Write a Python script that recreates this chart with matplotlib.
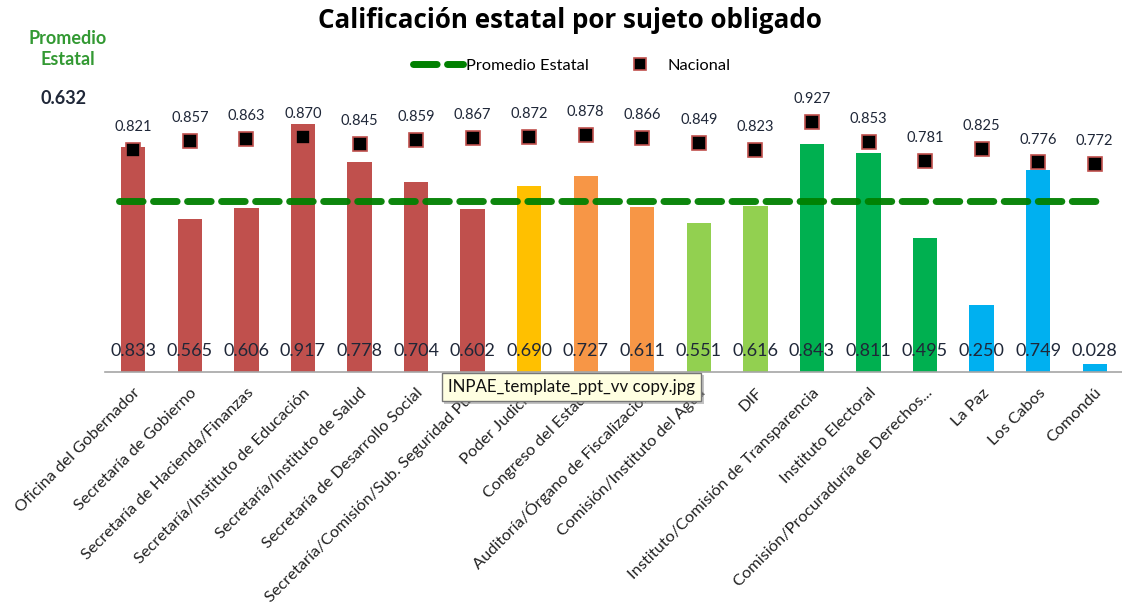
import matplotlib
matplotlib.use("Agg")
import matplotlib.pyplot as plt
from matplotlib.lines import Line2D
import matplotlib.patheffects as pe
import numpy as np

plt.rcParams['font.family'] = ['Open Sans', 'DejaVu Sans']

categories = [
    "Oficina del Gobernador",
    "Secretaría de Gobierno",
    "Secretaría de Hacienda/Finanzas",
    "Secretaría/Instituto de Educación",
    "Secretaría/Instituto de Salud",
    "Secretaría de Desarrollo Social",
    "Secretaría/Comisión/Sub. Seguridad Pú...",
    "Poder Judicial",
    "Congreso del Estado",
    "Auditoría/Órgano de Fiscalización",
    "Comisión/Instituto del Agua",
    "DIF",
    "Instituto/Comisión de Transparencia",
    "Instituto Electoral",
    "Comisión/Procuraduría de Derechos...",
    "La Paz",
    "Los Cabos",
    "Comondú",
]
estatal = [0.833, 0.565, 0.606, 0.917, 0.778, 0.704, 0.602, 0.690, 0.727,
           0.611, 0.551, 0.616, 0.843, 0.811, 0.495, 0.250, 0.749, 0.028]
nacional = [0.821, 0.857, 0.863, 0.870, 0.845, 0.859, 0.867, 0.872, 0.878,
            0.866, 0.849, 0.823, 0.927, 0.853, 0.781, 0.825, 0.776, 0.772]
promedio_estatal = 0.632

RED, YEL, ORA, LGR, GRN, BLU = "#C0504D", "#FFC000", "#F79646", "#92D050", "#00B050", "#00B0F0"
bar_colors = [RED] * 7 + [YEL] + [ORA] * 2 + [LGR] * 2 + [GRN] * 3 + [BLU] * 3

W, H = 1122, 607
fig = plt.figure(figsize=(W / 100, H / 100), dpi=100)
ax = fig.add_axes([105 / W, (H - 372) / H, (1123 - 105) / W, 270 / H])
ax.set_xlim(-0.5, len(categories) - 0.5)
ax.set_ylim(0, 1.0)

x = np.arange(len(categories))
ax.bar(x, estatal, width=0.43, color=bar_colors, zorder=2)

ax.plot([-0.25, len(categories) - 0.97], [promedio_estatal] * 2, color="#008000",
        lw=5, ls=(0, (3.4, 1.5)), dash_capstyle="round", zorder=3, alpha=0.95)

ax.plot(x, nacional, ls="none", marker="s", ms=9.5, mfc="black", mec=RED, mew=1.2, zorder=4)

txtc = "#1F2738"
for xi, v in zip(x, nacional):
    ax.annotate(f"{v:.3f}", (xi, v), xytext=(0, 11.5), textcoords="offset points",
                ha="center", va="bottom", fontsize=10.5, color=txtc, family="Lato")
for xi, v in zip(x, estatal):
    ax.annotate(f"{v:.3f}", (xi, 0), xytext=(0, 15), textcoords="offset points",
                ha="center", va="center", fontsize=13, color=txtc, family="Lato", zorder=5)

for s in ["top", "right", "left"]:
    ax.spines[s].set_visible(False)
ax.spines["bottom"].set_color("#A6A6A6")
ax.spines["bottom"].set_linewidth(1.2)
ax.set_yticks([])
ax.set_xticks(x)
ax.set_xticklabels(categories, rotation=45, ha="right", rotation_mode="anchor",
                   fontsize=11.8, color="#222222", family="Lato")
ax.tick_params(axis="x", length=0, pad=10)

fig.text(570 / W, 1 - 20 / H, "Calificación estatal por sujeto obligado", ha="center", va="center",
         fontsize=18.7, fontweight="bold", color="black", family="Open Sans")
fig.text(68 / W, 1 - 49 / H, "Promedio\nEstatal", ha="center", va="center", fontsize=13,
         fontweight="bold", color="#339933", family="Lato", linespacing=1.25)
fig.text(64 / W, 1 - 99 / H, f"{promedio_estatal:.3f}", ha="center", va="center", fontsize=13,
         fontweight="bold", color=txtc, family="Lato")

handles = [Line2D([], [], color="#008000", lw=5, ls=(0, (3.4, 1.5)), dash_capstyle="round"),
           Line2D([], [], ls="none", marker="s", ms=8, mfc="black", mec=RED, mew=1.2)]
fig.legend(handles, ["Promedio Estatal", "Nacional"], loc="center", bbox_to_anchor=(572 / W, 1 - 66 / H),
           ncol=2, frameon=False, prop={"family": "Lato", "size": 11.8}, columnspacing=1.6,
           handlelength=3.0, handletextpad=0.2)

fig.text(448 / W, 1 - 387 / H, "INPAE_template_ppt_vv copy.jpg", ha="left", va="center",
         fontsize=12.2, color="#111111", family="Lato",
         bbox=dict(boxstyle="square,pad=0.38", fc="#FFFFE1", ec="#767676", lw=1,
                   path_effects=[pe.withSimplePatchShadow(offset=(2, -2), shadow_rgbFace="#888888", alpha=0.5)]))

fig.savefig("out.png", dpi=100)
